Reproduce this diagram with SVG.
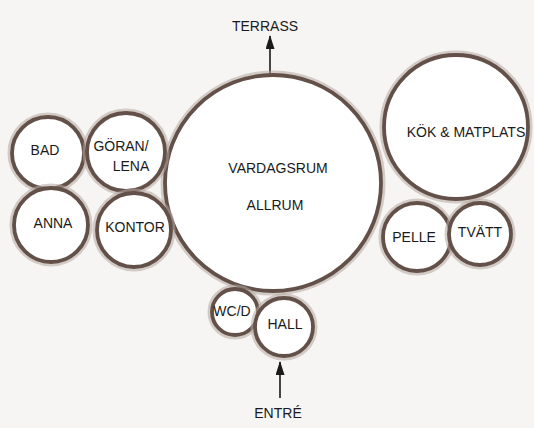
<svg xmlns="http://www.w3.org/2000/svg" width="534" height="428" viewBox="0 0 534 428">
<style>
.halo{fill:none;stroke:#b5a69e;stroke-width:9;opacity:0.55}
.ring{fill:#ffffff;stroke:#625049;stroke-width:3.8}
.t{font-family:"Liberation Sans",Arial,sans-serif;font-size:14px;fill:#1a1a1a;text-anchor:middle;dominant-baseline:central}
.line{stroke:#1a1a1a;stroke-width:1.6;fill:none}
</style>
<defs>
<marker id="ah" markerWidth="14" markerHeight="9" refX="13" refY="4.5" orient="auto" markerUnits="userSpaceOnUse" viewBox="0 0 14 9">
<path d="M0,0 L14,4.5 L0,9 Z" fill="#1a1a1a"/>
</marker>
</defs>
<rect width="534" height="428" fill="#f6f5f3"/>
<g id="connectors">
<line class="line" x1="270" y1="75" x2="270" y2="36" marker-end="url(#ah)"/>
<line class="line" x1="280" y1="398" x2="280" y2="362" marker-end="url(#ah)"/>
</g>
<g id="vardagsrum">
<circle class="halo" cx="273" cy="183" r="108"/>
<circle class="ring" cx="273" cy="183" r="108"/>
<text class="t" x="278" y="168" font-size="15">VARDAGSRUM</text>
<text class="t" x="275" y="205" font-size="15">ALLRUM</text>
</g>
<g id="bad">
<circle class="halo" cx="48" cy="153" r="36"/>
<circle class="ring" cx="48" cy="153" r="36"/>
<text class="t" x="45" y="150">BAD</text>
</g>
<g id="goran">
<circle class="halo" cx="126" cy="152" r="39"/>
<circle class="ring" cx="126" cy="152" r="39"/>
<text class="t" x="121" y="146" font-size="13">GÖRAN/</text>
<text class="t" x="131" y="166" font-size="13">LENA</text>
</g>
<g id="anna">
<circle class="halo" cx="51" cy="225" r="37"/>
<circle class="ring" cx="51" cy="225" r="37"/>
<text class="t" x="53" y="223" font-size="13">ANNA</text>
</g>
<g id="kontor">
<circle class="halo" cx="134" cy="230" r="37"/>
<circle class="ring" cx="134" cy="230" r="37"/>
<text class="t" x="135" y="227" font-size="13">KONTOR</text>
</g>
<g id="kok">
<circle class="halo" cx="456" cy="127" r="72"/>
<circle class="ring" cx="456" cy="127" r="72"/>
<text class="t" x="466" y="132" font-size="13">KÖK &amp; MATPLATS</text>
</g>
<g id="pelle">
<circle class="halo" cx="417" cy="237" r="34"/>
<circle class="ring" cx="417" cy="237" r="34"/>
<text class="t" x="414" y="237" font-size="13">PELLE</text>
</g>
<g id="tvatt">
<circle class="halo" cx="480" cy="234" r="31"/>
<circle class="ring" cx="480" cy="234" r="31"/>
<text class="t" x="480" y="232" font-size="13">TVÄTT</text>
</g>
<g id="wcd">
<circle class="halo" cx="235" cy="312" r="23"/>
<circle class="ring" cx="235" cy="312" r="23"/>
<text class="t" x="232" y="311" font-size="9">WC/D</text>
</g>
<g id="hall">
<circle class="halo" cx="284" cy="327" r="29"/>
<circle class="ring" cx="284" cy="327" r="29"/>
<text class="t" x="285" y="324" font-size="13">HALL</text>
</g>
<g id="terrass">
<text class="t" x="265" y="26" font-size="15">TERRASS</text>
</g>
<g id="entre">
<text class="t" x="278" y="413" font-size="14">ENTRÉ</text>
</g>
</svg>
